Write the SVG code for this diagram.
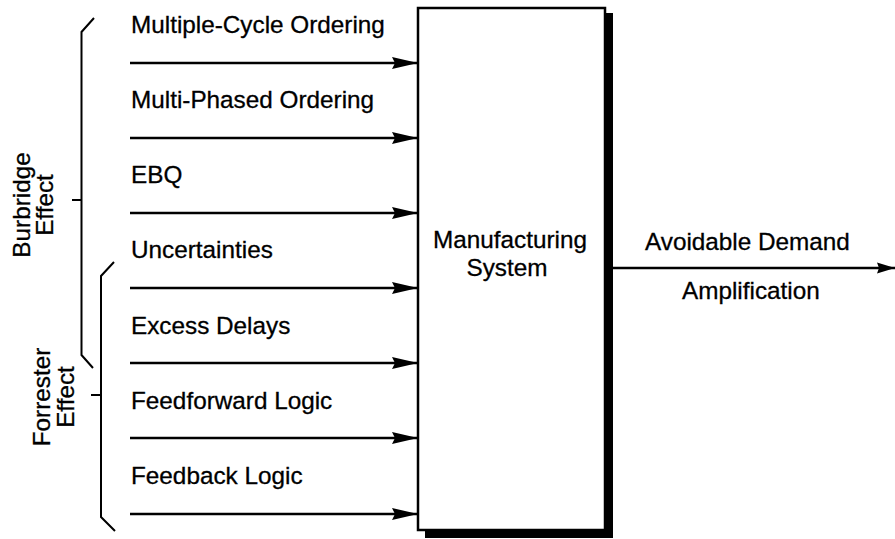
<svg xmlns="http://www.w3.org/2000/svg" width="895" height="539" viewBox="0 0 895 539">
<style>
text{font-family:"Liberation Sans",Arial,sans-serif;font-size:24.3px;fill:#000;stroke:#000;stroke-width:0.3}
.c{stroke:#000;stroke-width:2.5;fill:none}
.b{stroke:#000;stroke-width:2;fill:none}
</style>
<defs>
<marker id="ah" markerUnits="userSpaceOnUse" markerWidth="28" markerHeight="14" refX="26" refY="6" orient="auto">
<path d="M0,0 L26,6 L0,12 L3,6 z" fill="#000"/>
</marker>
<marker id="ah2" markerUnits="userSpaceOnUse" markerWidth="20" markerHeight="14" refX="18" refY="6" orient="auto">
<path d="M0,0.5 L18,6 L0,11.5 L2,6 z" fill="#000"/>
</marker>
</defs>
<rect width="895" height="539" fill="#fff"/>
<g id="system">
<rect x="605" y="13" width="8" height="525" fill="#000"/>
<rect x="425" y="530" width="188" height="8" fill="#000"/>
<rect x="418" y="8" width="187" height="522" fill="#fff" stroke="#000" stroke-width="2.5"/>
<text x="510" y="248" text-anchor="middle">Manufacturing</text>
<text x="507" y="276" text-anchor="middle">System</text>
</g>
<g id="burbridge">
<path class="b" d="M94,18 L81.5,32 L81.5,355 L93,368 M81.5,200 L72,200"/>
<text transform="translate(30,205) rotate(-90)" text-anchor="middle">Burbridge</text>
<text transform="translate(53,205) rotate(-90)" text-anchor="middle">Effect</text>
</g>
<g id="forrester">
<path class="b" d="M114,262 L101,276 L101,517 L115,531 M101,395 L91,395"/>
<text transform="translate(50,397) rotate(-90)" text-anchor="middle">Forrester</text>
<text transform="translate(74,397) rotate(-90)" text-anchor="middle">Effect</text>
</g>
<g id="labels">
<text x="131" y="33">Multiple-Cycle Ordering</text>
<text x="131" y="108">Multi-Phased Ordering</text>
<text x="131" y="183">EBQ</text>
<text x="131" y="258">Uncertainties</text>
<text x="131" y="334">Excess Delays</text>
<text x="131" y="409">Feedforward Logic</text>
<text x="131" y="484">Feedback Logic</text>
<text x="645" y="250">Avoidable Demand</text>
<text x="682" y="299">Amplification</text>
</g>
<g id="connectors">
<line class="c" x1="130" y1="63" x2="418" y2="63" marker-end="url(#ah)"/>
<line class="c" x1="130" y1="138" x2="418" y2="138" marker-end="url(#ah)"/>
<line class="c" x1="130" y1="213" x2="418" y2="213" marker-end="url(#ah)"/>
<line class="c" x1="130" y1="288" x2="418" y2="288" marker-end="url(#ah)"/>
<line class="c" x1="130" y1="363" x2="418" y2="363" marker-end="url(#ah)"/>
<line class="c" x1="130" y1="438" x2="418" y2="438" marker-end="url(#ah)"/>
<line class="c" x1="130" y1="514" x2="418" y2="514" marker-end="url(#ah)"/>
<line class="c" x1="613" y1="268" x2="895" y2="268" marker-end="url(#ah2)"/>
</g>
</svg>
